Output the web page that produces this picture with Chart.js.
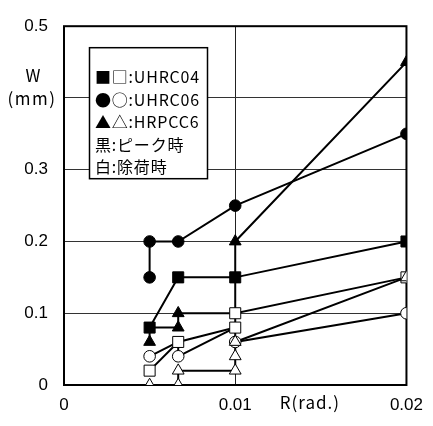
<!DOCTYPE html>
<html>
<head>
<meta charset="utf-8">
<script src="https://cdn.jsdelivr.net/npm/chart.js@4.4.1/dist/chart.umd.min.js"></script>
<style>
  html, body { margin: 0; padding: 0; background: #fff; }
  #wrap { width: 433px; height: 426px; }
</style>
</head>
<body>
<div id="wrap"><canvas id="c" width="433" height="426"></canvas></div>
<script>
// Drift angle R (rad.) of each loading step: 1/200, 1/150, 1/100, 1/50
// Crack width W (mm) at the peak of the cycle (black) and after unloading (white).
// Repeated R values are the second cycle of the same step.

const rUHRC04Peak   = [0.005, 0.00667, 0.01, 0.02];
const wUHRC04Peak   = [0.08, 0.15, 0.15, 0.20];

const rUHRC06Peak   = [0.005, 0.005, 0.00667, 0.01, 0.02];
const wUHRC06Peak   = [0.15, 0.20, 0.20, 0.25, 0.35];

const rHRPCC6Peak   = [0.005, 0.005, 0.00667, 0.00667, 0.01, 0.01, 0.02];
const wHRPCC6Peak   = [0.06, 0.08, 0.08, 0.10, 0.10, 0.20, 0.45];
const cornersHRPCC6Peak = [1, 4];       // path corners drawn without a marker

const rUHRC04Unload = [0.005, 0.00667, 0.01, 0.01, 0.02];
const wUHRC04Unload = [0.02, 0.06, 0.08, 0.10, 0.15];

const rUHRC06Unload = [0.005, 0.00667, 0.00667, 0.01, 0.01, 0.02];
const wUHRC06Unload = [0.04, 0.06, 0.04, 0.08, 0.06, 0.10];
const cornersUHRC06Unload = [1, 3];

const rHRPCC6Unload = [0.005, 0.00667, 0.00667, 0.01, 0.01, 0.01, 0.02];
const wHRPCC6Unload = [0.00, 0.00, 0.02, 0.02, 0.04, 0.06, 0.15];

const xTickLabels = { 0: '0', 0.01: '0.01', 0.02: '0.02' };
const yTickLabels = ['0', '0.1', '0.2', '0.3', '', '0.5'];
const xTitle = 'R(rad.)';
const yTitle = ['W', '(mm)'];
const legendLines = ['■□:UHRC04', '●○:UHRC06', '▲△:HRPCC6', '黒:ピーク時', '白:除荷時'];

const toPoints = (xs, ys) => xs.map((x, i) => ({ x: x, y: ys[i] }));

const MARK = {
  rect:     7.8,
  circle:   5.8,
  triangle: 6.8
};

// Open markers first so they sit on top of the filled ones where they overlap.
const series = [
  { key: 'HRPCC6 除荷時',  xs: rHRPCC6Unload, ys: wHRPCC6Unload, style: 'triangle', filled: false, corners: [] },
  { key: 'UHRC04 除荷時',  xs: rUHRC04Unload, ys: wUHRC04Unload, style: 'rect',     filled: false, corners: [] },
  { key: 'UHRC06 除荷時',  xs: rUHRC06Unload, ys: wUHRC06Unload, style: 'circle',   filled: false, corners: cornersUHRC06Unload },
  { key: 'HRPCC6 ピーク時', xs: rHRPCC6Peak,  ys: wHRPCC6Peak,   style: 'triangle', filled: true,  corners: cornersHRPCC6Peak },
  { key: 'UHRC04 ピーク時', xs: rUHRC04Peak,  ys: wUHRC04Peak,   style: 'rect',     filled: true,  corners: [] },
  { key: 'UHRC06 ピーク時', xs: rUHRC06Peak,  ys: wUHRC06Peak,   style: 'circle',   filled: true,  corners: [] }
];

const datasets = [];
// connecting lines underneath every marker
series.forEach(s => {
  datasets.push({
    label: s.key + ' line',
    data: toPoints(s.xs, s.ys),
    showLine: true,
    borderColor: '#000',
    borderWidth: 2,
    pointRadius: 0,
    tension: 0,
    order: 2
  });
});
// markers
series.forEach(s => {
  datasets.push({
    label: s.key,
    data: toPoints(s.xs, s.ys),
    showLine: false,
    pointStyle: s.style,
    pointRadius: ctx => s.corners.includes(ctx.dataIndex) ? 0 : MARK[s.style],
    pointBackgroundColor: s.filled ? '#000' : '#fff',
    pointBorderColor: '#000',
    pointBorderWidth: 1,
    order: 1
  });
});

const frame = {
  id: 'frame',
  beforeDatasetsDraw(chart) {
    const a = chart.chartArea, c = chart.ctx;
    c.save();
    c.strokeStyle = '#000';
    c.lineWidth = 2;
    c.strokeRect(a.left, a.top, a.right - a.left, a.bottom - a.top);
    c.restore();
  }
};

const texts = {
  id: 'texts',
  afterDatasetsDraw(chart) {
    const a = chart.chartArea, c = chart.ctx;
    const xs = chart.scales.x, ys = chart.scales.y;
    c.save();
    c.fillStyle = '#000';
    c.textAlign = 'center';
    c.textBaseline = 'middle';
    c.font = '17px "Noto Sans CJK JP"';
    const y4 = ys.getPixelForValue(0.4);
    c.fillText(yTitle[0], a.left - 31, y4 - 22);
    c.letterSpacing = '1.5px';
    c.fillText(yTitle[1], a.left - 32, y4 + 1);
    c.letterSpacing = '1px';
    c.fillText(xTitle, xs.getPixelForValue(0.015) - 11, a.bottom + 18);

    // legend box
    c.font = '16px "Noto Sans CJK JP"';
    c.letterSpacing = '0.8px';
    c.textAlign = 'left';
    let wMax = 0;
    legendLines.forEach(t => { wMax = Math.max(wMax, c.measureText(t).width); });
    const bx = a.left + 25, by = a.top + 21;
    const bw = Math.round(wMax + 13), bh = 131;
    c.fillStyle = '#fff';
    c.fillRect(bx, by, bw, bh);
    c.strokeStyle = '#000';
    c.lineWidth = 1.5;
    c.strokeRect(bx + 0.5, by + 0.5, bw, bh);
    c.fillStyle = '#000';
    legendLines.forEach((t, i) => {
      c.fillText(t, bx + 6, by + 30 + i * 22.5);
    });
    c.restore();
  }
};

new Chart(document.getElementById('c'), {
  type: 'scatter',
  data: { datasets: datasets },
  options: {
    responsive: false,
    devicePixelRatio: 1,
    animation: false,
    layout: { padding: { top: 18, right: 17, left: 0, bottom: 0 } },
    plugins: { legend: { display: false }, tooltip: { enabled: false } },
    scales: {
      x: {
        type: 'linear',
        min: 0, max: 0.02,
        afterFit: s => { s.height = 41; },
        border: { display: false },
        grid: { color: '#222', lineWidth: 1, drawTicks: false },
        ticks: {
          stepSize: 0.01,
          padding: 10,
          color: '#000',
          font: { family: 'Liberation Sans', size: 17 },
          maxRotation: 0,
          callback: v => xTickLabels[Math.round(v * 1000) / 1000] ?? ''
        }
      },
      y: {
        type: 'linear',
        min: 0, max: 0.5,
        afterFit: s => { s.width = 64; },
        border: { display: false },
        grid: { color: '#333', lineWidth: 1, drawTicks: false },
        ticks: {
          stepSize: 0.1,
          padding: 16,
          color: '#000',
          font: { family: 'Liberation Sans', size: 17 },
          callback: v => yTickLabels[Math.round(v * 10)] ?? ''
        }
      }
    }
  },
  plugins: [frame, texts]
});
</script>
</body>
</html>
